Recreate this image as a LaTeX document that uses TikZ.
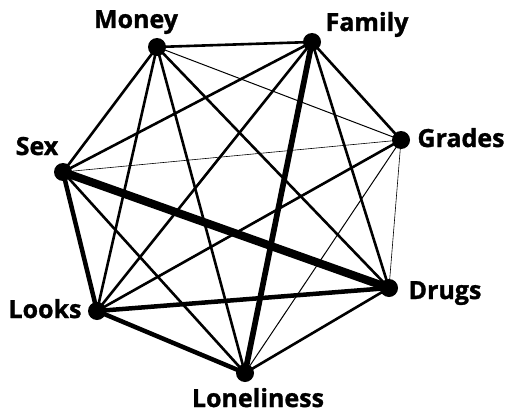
\documentclass[tikz,border=0pt]{standalone}
\usepackage{fontspec}
\setmainfont{Open Sans}
\newfontfamily\labfont{Open Sans}[BoldFeatures={FakeBold=1.2}]
\begin{document}
\begin{tikzpicture}[x=1pt,y=-1pt,
  dot/.style={circle,fill=black,inner sep=0pt,minimum size=18pt},
  lab/.style={font=\labfont\bfseries\fontsize{25}{25}\selectfont,inner sep=0pt,anchor=base},
  vthin/.style={line width=0.6pt},
  thin1/.style={line width=1pt},
  med/.style={line width=2.6pt},
  thick1/.style={line width=4.5pt},
  thick2/.style={line width=5.7pt},
  thick3/.style={line width=8.2pt}]
\useasboundingbox (0,0) rectangle (508,412);
\coordinate (M) at (157,47);
\coordinate (F) at (312,42);
\coordinate (G) at (401,140);
\coordinate (D) at (389,288);
\coordinate (L) at (245,373);
\coordinate (K) at (97,311);
\coordinate (S) at (63,172);
% edges
\draw[med] (M) -- (F);
\draw[thin1] (M) -- (G);
\draw[med] (M) -- (D);
\draw[med] (M) -- (L);
\draw[med] (M) -- (K);
\draw[med] (M) -- (S);
\draw[med] (F) -- (G);
\draw[med] (F) -- (S);
\draw[med] (F) -- (K);
\draw[med] (F) -- (D);
\draw[thick2] (F) -- (L);
\draw[vthin] (G) -- (S);
\draw[med] (G) -- (K);
\draw[thin1] (G) -- (L);
\draw[vthin] (G) -- (D);
\draw[thick3] (D) -- (S);
\draw[thick1] (D) -- (K);
\draw[med] (D) -- (L);
\draw[thick1] (L) -- (K);
\draw[med] (L) -- (S);
\draw[thick1] (K) -- (S);
% dots
\node[dot] (m) at (M) {};
\node[dot] (f) at (F) {};
\node[dot] (g) at (G) {};
\node[dot] (d) at (D) {};
\node[dot] (l) at (L) {};
\node[dot] (k) at (K) {};
\node[dot] (s) at (S) {};
% labels
\node[lab] (tm) at (136,28) {Money};
\node[lab] (tf) at (367,31) {Family};
\node[lab] (tg) at (461,147) {Grades};
\node[lab] (td) at (445,299) {Drugs};
\node[lab] (tl) at (258,407) {Loneliness};
\node[lab] (tk) at (45,318) {Looks};
\node[lab] (ts) at (37,155) {Sex};
\end{tikzpicture}
\end{document}
